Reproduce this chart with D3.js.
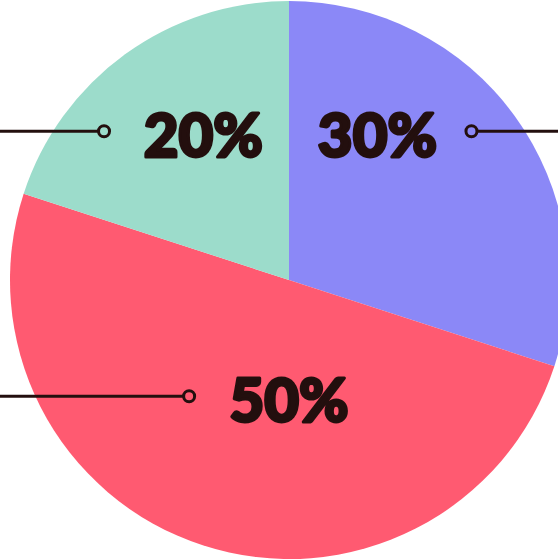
<!DOCTYPE html>
<html>
<head>
<meta charset="utf-8">
<script src="https://cdn.jsdelivr.net/npm/d3@7"></script>
<style>
	html, body { margin: 0; padding: 0; background: white; }
	#outer { width: 558px; height: 559px; }
</style>
</head>
<body>
<div id="outer"></div>
<script>

////////// Data //////////
const categories = ['A', 'B', 'C'];
const shares = [30, 50, 20];
const labels = ['30%', '50%', '20%'];
const sliceColors = ['#8b88f7', '#ff5a71', '#9cdccb'];

function drawPie () {

	////////// Hard Coded Defs //////////
	const width = 558;
	const height = 559;
	const cx = 289;
	const cy = 280;
	const radius = 279;
	const textColor = '#230f0e';
	const labelFont = '900 60px Lato, "DejaVu Sans", sans-serif';

	// label spots, relative to the pie (fractions of radius)
	const labelSpots = [
		{dx: 0.317, dy: -0.44, ringDx: 0.654, side: 'right'},
		{dx: 0, dy: 0.51, ringDx: -0.358, side: 'left'},
		{dx: -0.307, dy: -0.44, ringDx: -0.663, side: 'left'}
	];

	const svg = d3.select('#outer').append('svg')
		.attr('width', width)
		.attr('height', height)
		.style('display', 'block');

	const pieGroup = svg.append('g')
		.attr('transform', `translate(${cx}, ${cy})`);

	// ********************************************* SLICES ******************************************************* //
	const pie = d3.pie().sort(null).value(d => d.value);
	const arc = d3.arc().innerRadius(0).outerRadius(radius);
	const rows = categories.map((c, i) => ({cat: c, value: shares[i], label: labels[i], color: sliceColors[i], spot: labelSpots[i]}));
	const arcs = pie(rows);

	pieGroup.selectAll('path.slice')
		.data(arcs)
		.join('path')
		.attr('class', 'slice')
		.attr('d', arc)
		.attr('fill', d => d.data.color);

	// ********************************************* LABELS ******************************************************* //
	const labelGroups = pieGroup.selectAll('g.label')
		.data(arcs)
		.join('g')
		.attr('class', 'label')
		.attr('transform', d => `translate(${d.data.spot.dx * radius}, ${d.data.spot.dy * radius})`);

	labelGroups.append('text')
		.text(d => d.data.label)
		.attr('text-anchor', 'middle')
		.attr('y', 0)
		.style('font', labelFont)
		.attr('fill', textColor)
		.attr('stroke', textColor)
		.attr('stroke-width', 3)
		.attr('stroke-linejoin', 'round');

	// leader lines with little rings
	const lineY = -26;
	const ringR = 5.5;
	labelGroups.each(function (d) {
		const g = d3.select(this);
		const spot = d.data.spot;
		const dir = spot.side === 'right' ? 1 : -1;
		const ringX = (spot.ringDx - spot.dx) * radius;
		const absX = cx + spot.ringDx * radius;
		const endX = dir > 0 ? width - absX : -absX;
		g.append('line')
			.attr('x1', ringX + dir * ringR)
			.attr('x2', ringX + endX)
			.attr('y1', lineY)
			.attr('y2', lineY)
			.attr('stroke', textColor)
			.attr('stroke-width', 3);
		g.append('circle')
			.attr('cx', ringX)
			.attr('cy', lineY)
			.attr('r', ringR)
			.attr('fill', 'none')
			.attr('stroke', textColor)
			.attr('stroke-width', 3);
	});
}

drawPie();
</script>
</body>
</html>
